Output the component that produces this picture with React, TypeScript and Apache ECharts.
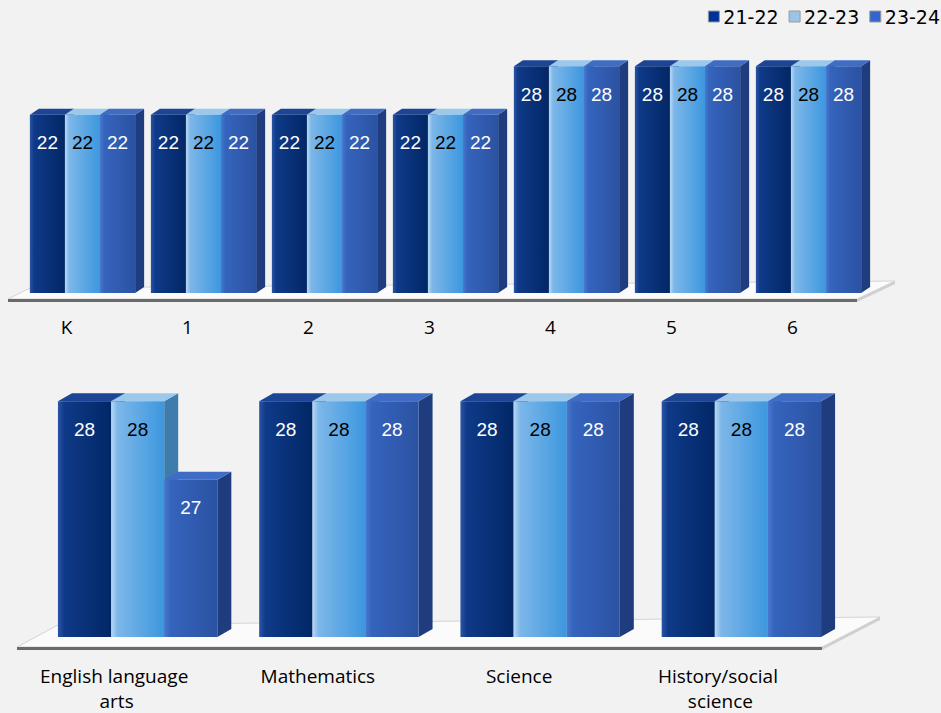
import React, { useEffect, useRef } from "react";
import * as echarts from "echarts";

const seriesNames = ["21-22", "22-23", "23-24"];
const grades = ["K", "1", "2", "3", "4", "5", "6"];
const grade2122 = [22, 22, 22, 22, 28, 28, 28];
const grade2223 = [22, 22, 22, 22, 28, 28, 28];
const grade2324 = [22, 22, 22, 22, 28, 28, 28];
const subjects = ["English language arts", "Mathematics", "Science", "History/social science"];
const subj2122 = [28, 28, 28, 28];
const subj2223 = [28, 28, 28, 28];
const subj2324 = [27, 28, 28, 28];
const topAxisMin = 0;
const topAxisMax = 30;
const bottomAxisMin = 25;
const bottomAxisMax = 28.5;

const legendColors = ["#003399", "#9dc3e6", "#3366cc"];
const faces = [
  { front: ["#2a55a6", "#0f3a88", "#022766"], top: "#1d4596", side: "#0a2a62", label: "#ffffff" },
  { front: ["#b8d8f4", "#7db7e9", "#3c97de"], top: "#9cc8ec", side: "#3e7cab", label: "#000000" },
  { front: ["#4a78d0", "#3564bd", "#2b52a2"], top: "#3f6cc4", side: "#1f3d7e", label: "#ffffff" },
];

function barRenderer(s: number, ratio: number, dx: number, dy: number, yMin: number) {
  return (params: any, api: any) => {
    const cat = api.value(0);
    const val = api.value(1);
    const top = api.coord([cat, val]);
    const base = api.coord([cat, yMin]);
    const band = api.size([1, 0])[0];
    const w = band * ratio;
    const x0 = top[0] - 1.5 * w + s * w;
    const yT = top[1];
    const yB = base[1];
    const c = faces[s];
    return {
      type: "group",
      children: [
        {
          type: "polygon",
          shape: { points: [[x0 + w, yT], [x0 + w + dx, yT + dy], [x0 + w + dx, yB + dy], [x0 + w, yB]] },
          style: { fill: c.side },
        },
        {
          type: "polygon",
          shape: { points: [[x0, yT], [x0 + dx, yT + dy], [x0 + w + dx, yT + dy], [x0 + w, yT]] },
          style: { fill: c.top },
        },
        {
          type: "rect",
          shape: { x: x0, y: yT, width: w, height: yB - yT },
          style: {
            fill: {
              type: "linear", x: 0, y: 0, x2: 1, y2: 0,
              colorStops: [
                { offset: 0, color: c.front[0] },
                { offset: 0.12, color: c.front[1] },
                { offset: 1, color: c.front[2] },
              ],
            },
          },
        },
        {
          type: "text",
          x: x0 + w / 2,
          y: yT + 28,
          style: {
            text: String(val),
            fill: c.label,
            fontFamily: "Liberation Sans, Arial, sans-serif",
            fontSize: 19,
            align: "center",
            verticalAlign: "middle",
          },
        },
      ],
    };
  };
}

function floorRenderer(fl: number, fr: number, bl: number, br: number, fy: number, bly: number, bry: number) {
  return (params: any, api: any) => {
    const cs = params.coordSys;
    const gx = cs.x;
    const gw = cs.width;
    const by = cs.y + cs.height;
    const pFL = [gx + fl, by + fy];
    const pFR = [gx + gw + fr, by + fy];
    const pBR = [gx + gw + br, by + bry];
    const pBL = [gx + bl, by + bly];
    return {
      type: "group",
      children: [
        {
          type: "polygon",
          shape: { points: [pFR, pBR, [pBR[0], pBR[1] + 3], [pFR[0], pFR[1] + 3]] },
          style: { fill: "#cfcfcf" },
        },
        {
          type: "polygon",
          shape: { points: [pFL, pFR, pBR, pBL] },
          style: { fill: "#fbfbfb", stroke: "#d4d4d4", lineWidth: 1 },
        },
        {
          type: "rect",
          shape: { x: pFL[0], y: pFL[1], width: pFR[0] - pFL[0], height: 3 },
          style: { fill: "#6a6a6a" },
        },
      ],
    };
  };
}

export default function App() {
  const ref = useRef<HTMLDivElement>(null);
  useEffect(() => {
    document.body.style.margin = "0";
    const chart = echarts.init(ref.current!, null, { renderer: "svg" });
    const topSets = [grade2122, grade2223, grade2324];
    const botSets = [subj2122, subj2223, subj2324];
    const series: any[] = [
      {
        type: "custom",
        xAxisIndex: 0,
        yAxisIndex: 0,
        silent: true,
        z: 1,
        data: [[0, topAxisMin]],
        renderItem: floorRenderer(-14, -12, 8, 26, 6, -5, -12),
      },
      {
        type: "custom",
        xAxisIndex: 1,
        yAxisIndex: 1,
        silent: true,
        z: 1,
        data: [[0, bottomAxisMin]],
        renderItem: floorRenderer(-20, -20, 21, 38, 10, -12, -20),
      },
    ];
    seriesNames.forEach((name, s) => {
      series.push({
        type: "custom",
        name,
        xAxisIndex: 0,
        yAxisIndex: 0,
        z: 2,
        itemStyle: { color: legendColors[s] },
        encode: { x: 0, y: 1 },
        data: grades.map((_, i) => [i, topSets[s][i]]),
        renderItem: barRenderer(s, 0.29, 9, -6, topAxisMin),
      });
      series.push({
        type: "custom",
        name,
        xAxisIndex: 1,
        yAxisIndex: 1,
        z: 2,
        itemStyle: { color: legendColors[s] },
        encode: { x: 0, y: 1 },
        data: subjects.map((_, i) => [i, botSets[s][i]]),
        renderItem: barRenderer(s, 0.264, 14, -8, bottomAxisMin),
      });
    });
    const labelFont = { fontFamily: "Open Sans, sans-serif", fontSize: 19, color: "#000000" };
    chart.setOption({
      animation: false,
      backgroundColor: "#f2f2f2",
      legend: {
        data: seriesNames,
        top: 7,
        right: 1,
        padding: 0,
        itemGap: 10,
        itemWidth: 11,
        itemHeight: 11,
        icon: "rect",
        itemStyle: { borderColor: "#9a9a9a", borderWidth: 1 },
        textStyle: { fontFamily: "DejaVu Sans, sans-serif", fontSize: 19, color: "#000000", padding: [0, 0, 0, -1] },
      },
      grid: [
        { left: 22, top: 50, width: 847, height: 243 },
        { left: 37, top: 362, width: 805, height: 275 },
      ],
      xAxis: [
        {
          type: "category",
          gridIndex: 0,
          data: grades,
          axisLine: { show: false },
          axisTick: { show: false },
          axisLabel: { ...labelFont, interval: 0, margin: 24, padding: [0, 32, 0, 0] },
        },
        {
          type: "category",
          gridIndex: 1,
          data: subjects,
          axisLine: { show: false },
          axisTick: { show: false },
          axisLabel: {
            ...labelFont,
            interval: 0,
            margin: 26,
            lineHeight: 25,
            width: 170,
            overflow: "break",
            padding: [0, 42, 0, 0],
          },
        },
      ],
      yAxis: [
        { type: "value", gridIndex: 0, min: topAxisMin, max: topAxisMax, show: false },
        { type: "value", gridIndex: 1, min: bottomAxisMin, max: bottomAxisMax, show: false },
      ],
      series,
    });
    return () => chart.dispose();
  }, []);
  return <div ref={ref} style={{ position: "fixed", left: 0, top: 0, width: 941, height: 713 }} />;
}
